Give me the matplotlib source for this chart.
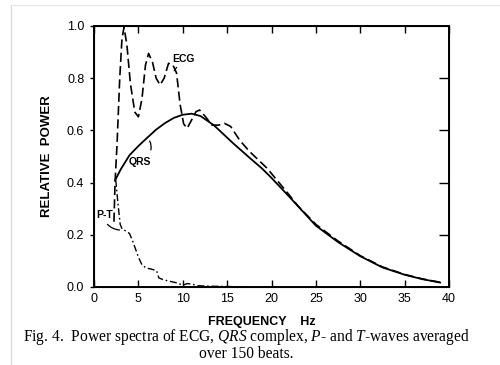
import matplotlib.pyplot as plt
from matplotlib.lines import Line2D

plt.rcParams["mathtext.fontset"] = "custom"
plt.rcParams["mathtext.rm"] = "Liberation Serif"
plt.rcParams["mathtext.it"] = "Liberation Serif:italic"

# QRS complex spectrum (solid)
qrs_f = [2.4, 3.0, 4.0, 5.0, 6.0, 7.0, 8.0, 9.0, 10.0, 11.0, 12.0, 13.5, 15.7, 17.6,
         18.9, 20.0, 22.0, 25.0, 27.5, 30.0, 32.5, 35.0, 37.0, 39.0]
qrs_p = [0.41, 0.45, 0.505, 0.54, 0.572, 0.603, 0.628, 0.648, 0.660, 0.664, 0.655, 0.62, 0.55, 0.493,
         0.455, 0.418, 0.346, 0.235, 0.172, 0.118, 0.075, 0.047, 0.03, 0.017]

# ECG spectrum (dashed)
ecg_f = [2.25, 2.37, 2.6, 2.9, 3.15, 3.38, 3.7, 4.1, 4.6, 5.0, 5.4, 5.8, 6.15, 6.6, 7.0, 7.45,
         7.9, 8.4, 8.9, 9.3, 9.7, 10.1, 10.5, 11.0, 11.5, 11.9, 12.5, 13.3, 14.0, 14.7,
         15.4, 16.4, 17.5, 19.5, 21.7, 23.0, 25.0, 27.5, 30.0, 32.5, 35.0, 37.0, 39.0]
ecg_p = [0.25, 0.40, 0.55, 0.80, 0.95, 0.995, 0.93, 0.78, 0.67, 0.652, 0.72, 0.85, 0.895, 0.86, 0.80, 0.774,
         0.80, 0.857, 0.85, 0.82, 0.70, 0.625, 0.608, 0.64, 0.672, 0.678, 0.655, 0.62, 0.62, 0.627,
         0.615, 0.563, 0.52, 0.455, 0.365, 0.31, 0.24, 0.176, 0.12, 0.077, 0.048, 0.031, 0.018]

# P- and T-wave spectrum (dash-dot)
pt_f = [2.45, 2.7, 2.95, 3.2, 3.6, 4.0, 4.4, 5.0, 5.4, 5.9, 6.3, 6.7, 7.06, 7.3, 7.8, 8.4,
        9.3, 9.7, 10.1, 10.5, 10.9, 11.7, 13.0, 15.0, 17.0]
pt_p = [0.41, 0.32, 0.24, 0.22, 0.215, 0.205, 0.172, 0.115, 0.085, 0.072, 0.07, 0.066, 0.062, 0.035, 0.028, 0.023,
        0.016, 0.011, 0.008, 0.013, 0.012, 0.005, 0.003, 0.002, 0.0]

x_ticks = [0, 5, 10, 15, 20, 25, 30, 35, 40]
y_ticks = [0.0, 0.2, 0.4, 0.6, 0.8, 1.0]

fig = plt.figure(figsize=(5.0, 3.65), dpi=100)
ax = fig.add_axes([0.188, 0.2137, 0.710, 0.7151])

ax.plot(qrs_f, qrs_p, color="black", lw=1.3)
ax.plot(ecg_f, ecg_p, color="black", lw=1.2, dashes=(5.5, 2.5))
ax.plot(pt_f, pt_p, color="black", lw=1.0, dashes=(5, 2, 1.2, 2))

ax.set_xlim(0, 40)
ax.set_ylim(0, 1.0)
ax.set_xticks(x_ticks)
ax.set_yticks(y_ticks)
ax.set_xticklabels([str(t) for t in x_ticks], fontsize=9, family="Liberation Sans")
ax.set_yticklabels(["%.1f" % t for t in y_ticks], fontsize=9, family="Liberation Sans")
ax.tick_params(axis="x", direction="in", length=5, width=1.0, top=True, pad=4)
ax.tick_params(axis="y", direction="out", length=3, width=1.0, pad=4)
for s in ax.spines.values():
    s.set_linewidth(1.4)

# right-side inward ticks
ax2 = ax.twinx()
ax2.set_ylim(0, 1.0)
ax2.set_yticks(y_ticks[1:-1])
ax2.set_yticklabels([])
ax2.tick_params(axis="y", direction="in", length=7, width=1.0)

# curve labels
lab = dict(fontsize=7.5, family="Liberation Sans", weight="bold")
ax.text(10.1, 0.875, "ECG", ha="center", va="center", **lab)
ax.annotate("", xy=(8.85, 0.82), xytext=(9.5, 0.85),
            arrowprops=dict(arrowstyle="-", lw=0.9, color="black"))
ax.text(5.15, 0.48, "QRS", ha="center", va="center", **lab)
ax.annotate("", xy=(6.1, 0.568), xytext=(6.3, 0.515),
            arrowprops=dict(arrowstyle="-", lw=0.9, color="black",
                            connectionstyle="arc3,rad=0.3"))
ax.text(1.15, 0.275, "P-T", ha="center", va="center", **lab)
ax.annotate("", xy=(3.2, 0.218), xytext=(1.3, 0.248),
            arrowprops=dict(arrowstyle="-", lw=0.9, color="black",
                            connectionstyle="arc3,rad=0.25"))

ax.set_ylabel("RELATIVE  POWER", fontsize=9.5, family="Liberation Sans", weight="bold", labelpad=10)
fig.text(0.524, 0.118, "FREQUENCY    Hz", ha="center", va="center",
         fontsize=9, family="Liberation Sans", weight="bold")

fig.text(0.492, 0.077, "Fig. 4.  Power spectra of ECG, $QRS$ complex, $P$- and $T$-waves averaged",
         ha="center", va="center", fontsize=11.2, family="Liberation Serif")
fig.text(0.492, 0.030, "over 150 beats.", ha="center", va="center",
         fontsize=11.2, family="Liberation Serif")

# scanned page edge
fig.add_artist(Line2D([0.021, 0.021], [0.0, 0.986], color="#d8d8d8", lw=0.8))
fig.add_artist(Line2D([0.021, 1.0], [0.986, 0.986], color="#e6e6e6", lw=0.8))

fig.savefig("out.png", dpi=100)
